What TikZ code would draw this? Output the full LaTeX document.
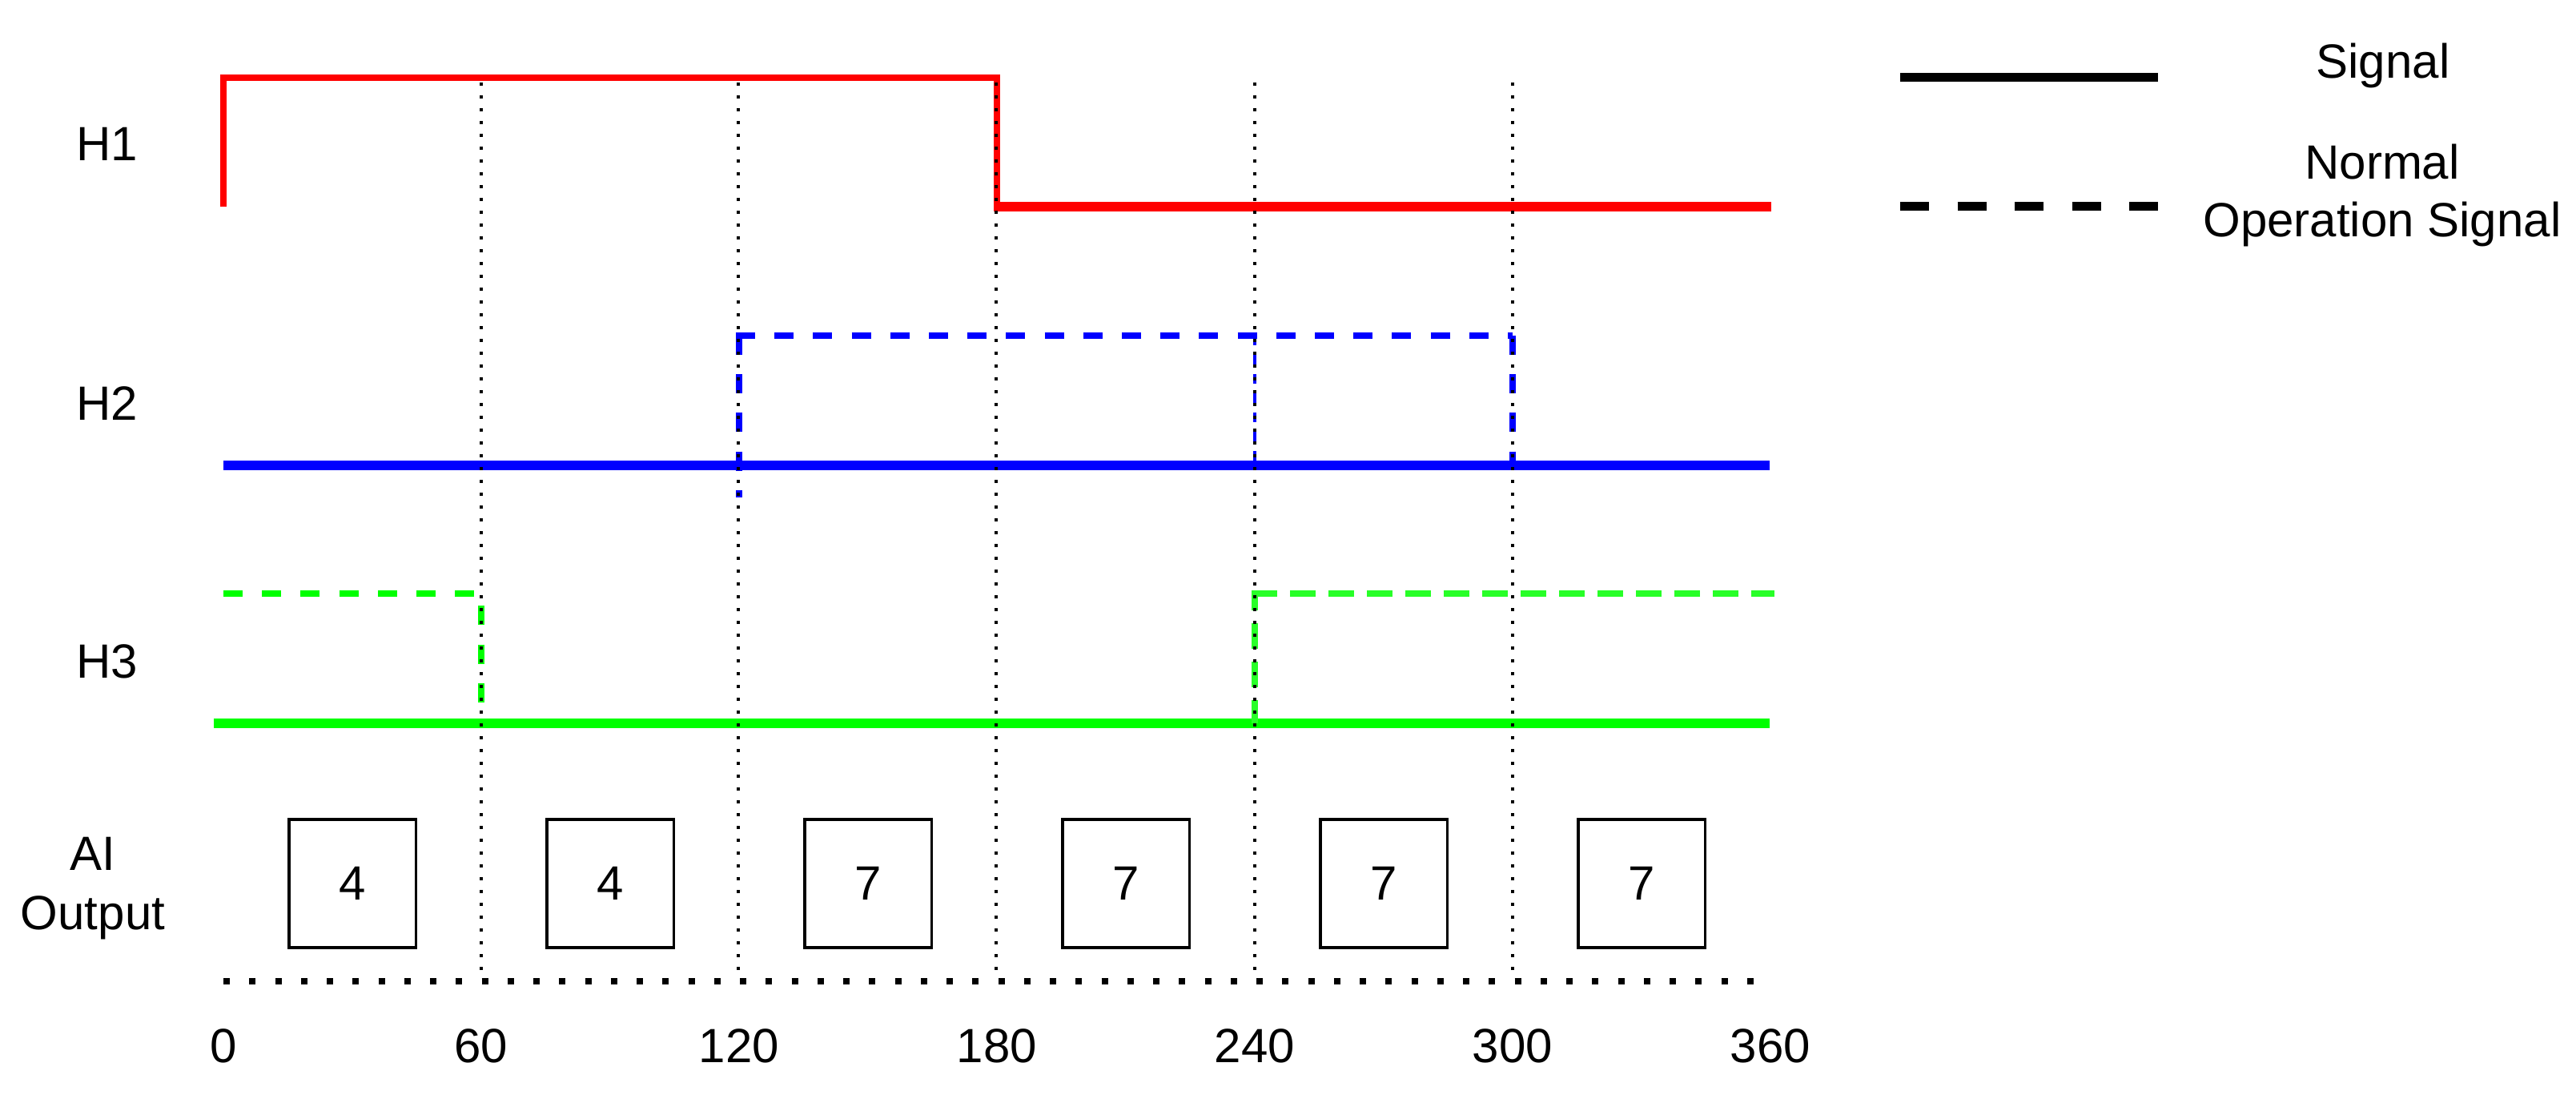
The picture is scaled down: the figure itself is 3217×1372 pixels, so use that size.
\documentclass[tikz,border=0pt]{standalone}
\usepackage{fontspec}
\setmainfont{Liberation Sans}
\definecolor{sigred}{RGB}{255,0,0}
\definecolor{sigblue}{RGB}{0,0,255}
\definecolor{siggreen}{RGB}{0,255,0}
\definecolor{siggreenb}{RGB}{40,255,40}
\begin{document}
\begin{tikzpicture}[x=1pt,y=-1pt,
  lbl/.style={font=\fontsize{60}{72}\selectfont, inner sep=0pt, outer sep=0pt},
  gridline/.style={line width=4pt, dash pattern=on 4pt off 12pt, black},
  baseline dots/.style={line width=8pt, dash pattern=on 8pt off 24.25pt, black},
  solidsig/.style={line width=12pt},
  normsig/.style={line width=8pt, dash pattern=on 24pt off 24.2pt},
  outbox/.style={draw=black, line width=3.5pt, minimum width=158.5pt, minimum height=160pt, inner sep=0pt, font=\fontsize{60}{72}\selectfont},
  legline/.style={line width=11pt, black}]
\useasboundingbox (0,0) rectangle (3217,1372);

% ---- H1 (red) ----
\draw[sigred, line width=8pt, miter limit=10] (279,258) -- (279,97) -- (1245,97) -- (1245,258);
\draw[sigred, solidsig] (1241,258) -- (2212,258);

% ---- H2 (blue) ----
\draw[sigblue, solidsig] (279,581) -- (2210,581);
\draw[sigblue, normsig] (923,419) -- (923,621);
\draw[sigblue, normsig] (919,419) -- (1889,419);
\draw[sigblue, normsig] (1889,419) -- (1889,581);
\draw[sigblue, line width=4pt, dash pattern=on 12pt off 12pt] (1567,419) -- (1567,581);

% ---- H3 (green) ----
\draw[siggreen, solidsig] (267,903) -- (2210,903);
\draw[siggreen, line width=8.5pt, dash pattern=on 24pt off 24.2pt] (279,741) -- (601,741) -- (601,903);
\draw[siggreenb, line width=8pt, dash pattern=on 32pt off 16pt, dash phase=11pt] (1567,741) -- (1567,903);
\draw[siggreenb, line width=8.5pt, dash pattern=on 32pt off 16pt] (1563,741) -- (2216,741);

% ---- dotted time grid ----
\foreach \gx in {601,922,1244,1567,1889}{
  \draw[gridline] (\gx,103) -- (\gx,1219);
}
\draw[baseline dots] (279,1225) -- (2190,1225);

% ---- row labels ----
\node[lbl, anchor=base west] (h1) at (95,201) {H1};
\node[lbl, anchor=base west] (h2) at (95,524) {H2};
\node[lbl, anchor=base west] (h3) at (95,846) {H3};
\node[lbl, anchor=north, align=center, font=\fontsize{60}{74}\selectfont] (ai) at (116,1045) {AI\\Output};

% ---- AI output boxes ----
\node[outbox] (b1) at (440,1103) {4};
\node[outbox] (b2) at (762,1103) {4};
\node[outbox] (b3) at (1084,1103) {7};
\node[outbox] (b4) at (1406,1103) {7};
\node[outbox] (b5) at (1728,1103) {7};
\node[outbox] (b6) at (2050,1103) {7};

% ---- time axis labels ----
\node[lbl, anchor=base] (t0) at (279,1326) {0};
\node[lbl, anchor=base] (t60) at (601,1326) {60};
\node[lbl, anchor=base] (t120) at (923,1326) {120};
\node[lbl, anchor=base] (t180) at (1245,1326) {180};
\node[lbl, anchor=base] (t240) at (1567,1326) {240};
\node[lbl, anchor=base] (t300) at (1889,1326) {300};
\node[lbl, anchor=base] (t360) at (2211,1326) {360};

% ---- legend ----
\coordinate (la) at (2373,97);
\coordinate (lb) at (2695,97);
\coordinate (lc) at (2373,258);
\coordinate (ld) at (2695,258);
\draw[legline] (la) -- (lb);
\draw[legline, dash pattern=on 36pt off 35.5pt] (lc) -- (ld);
\node[lbl, anchor=base] (leg1) at (2976,98) {Signal};
\node[lbl, anchor=north, align=center] (leg2) at (2975,180) {Normal\\Operation Signal};
\end{tikzpicture}
\end{document}
